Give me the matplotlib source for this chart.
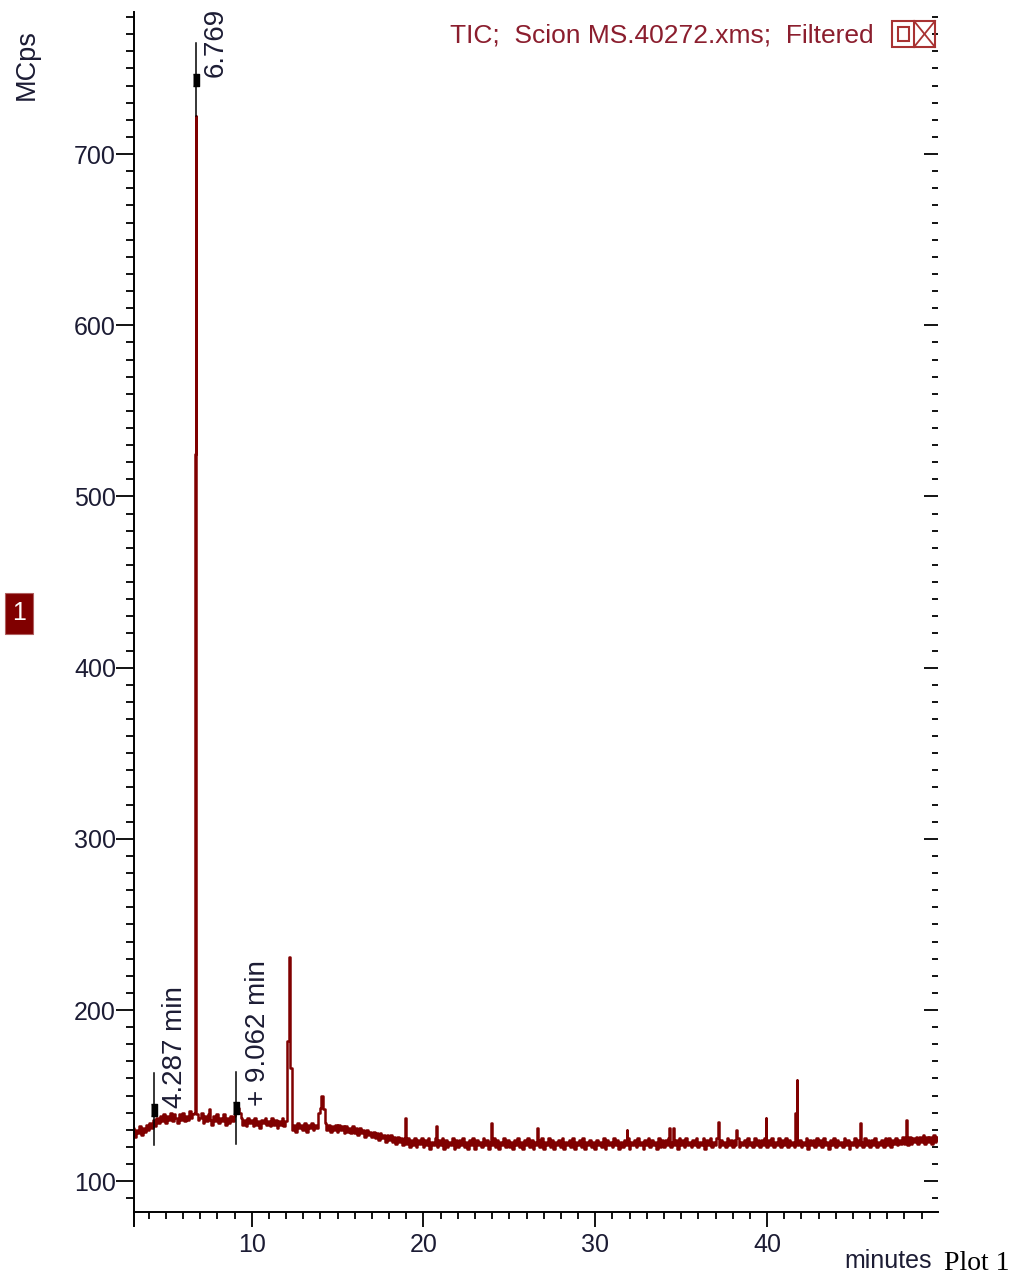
import numpy as np
import matplotlib
matplotlib.use('Agg')
import matplotlib.pyplot as plt
from matplotlib.patches import Rectangle
from matplotlib.ticker import MultipleLocator, FixedFormatter, FixedLocator

plt.rcParams['font.family'] = ['Liberation Sans', 'DejaVu Sans']

# TIC trace, one value every 0.1 min from 3.0 min
base_start = 3.0
base_step = 0.1
base_tic = [
    127, 131, 126, 130, 128, 132, 127, 131, 129, 133,   # 3
    130, 134, 131, 136, 132, 137, 134, 138, 135, 139,   # 4
    134, 138, 136, 140, 135, 139, 137, 134, 139, 136,   # 5
    140, 135, 138, 136, 141, 137, 139, 140, 139, 136,   # 6
    137, 140, 134, 138, 135, 139, 136, 133, 138, 135,   # 7
    139, 134, 137, 135, 139, 133, 137, 134, 138, 135,   # 8
    138, 142, 143, 140, 137, 133, 136, 132, 137, 134,   # 9
    136, 132, 137, 133, 135, 131, 136, 134, 137, 133,   # 10
    135, 132, 137, 133, 136, 131, 135, 133, 137, 132,   # 11
    135, 182, 231, 166, 130, 133, 129, 134, 131, 133,   # 12
    130, 134, 129, 133, 131, 134, 130, 133, 131, 140,   # 13
    143, 150, 142, 134, 130, 133, 129, 132, 130, 133,   # 14
    129, 133, 130, 132, 128, 132, 129, 131, 128, 132,   # 15
    128, 131, 127, 131, 128, 130, 126, 130, 127, 129,   # 16
    126, 129, 125, 128, 124, 128, 125, 127, 123, 127,   # 17
    124, 127, 123, 126, 122, 126, 123, 125, 121, 125,   # 18
    122, 125, 120, 124, 121, 125, 120, 124, 122, 125,   # 19
    120, 124, 121, 125, 119, 123, 121, 125, 120, 124,   # 20
    121, 125, 119, 124, 120, 123, 121, 125, 119, 124,   # 21
    120, 124, 121, 125, 120, 123, 119, 124, 121, 125,   # 22
    119, 124, 121, 123, 120, 125, 121, 124, 119, 123,   # 23
    121, 125, 120, 124, 119, 123, 121, 125, 120, 124,   # 24
    120, 123, 119, 124, 121, 125, 120, 123, 119, 124,   # 25
    121, 125, 120, 124, 119, 123, 121, 124, 120, 125,   # 26
    119, 123, 121, 125, 120, 124, 119, 123, 121, 124,   # 27
    120, 125, 119, 123, 121, 124, 120, 125, 119, 123,   # 28
    121, 124, 120, 125, 119, 123, 121, 124, 120, 123,   # 29
    119, 124, 121, 123, 120, 125, 119, 124, 121, 123,   # 30
    120, 125, 121, 124, 119, 123, 120, 124, 121, 125,   # 31
    119, 123, 121, 124, 120, 125, 121, 123, 119, 124,   # 32
    121, 125, 120, 124, 121, 123, 119, 125, 120, 124,   # 33
    120, 124, 121, 125, 120, 123, 121, 124, 119, 125,   # 34
    121, 124, 120, 125, 121, 123, 120, 124, 121, 125,   # 35
    120, 123, 121, 125, 119, 124, 121, 125, 120, 123,   # 36
    121, 125, 120, 124, 121, 123, 120, 125, 121, 124,   # 37
    120, 124, 121, 125, 120, 123, 121, 124, 120, 125,   # 38
    121, 123, 120, 125, 121, 124, 120, 124, 121, 125,   # 39
    120, 124, 121, 125, 120, 123, 121, 125, 120, 124,   # 40
    121, 125, 120, 124, 121, 123, 120, 125, 121, 124,   # 41
    120, 123, 121, 125, 119, 124, 121, 124, 120, 125,   # 42
    121, 124, 120, 125, 121, 123, 119, 124, 121, 125,   # 43
    120, 124, 121, 123, 120, 125, 121, 124, 119, 123,   # 44
    121, 125, 120, 124, 121, 123, 120, 125, 121, 124,   # 45
    120, 124, 121, 125, 120, 123, 121, 124, 120, 125,   # 46
    121, 125, 120, 124, 122, 125, 121, 124, 122, 126,   # 47
    122, 125, 121, 126, 122, 125, 123, 126, 122, 126,   # 48
    123, 127, 122, 126, 123, 126, 122, 127, 123, 126,   # 49
    124,                                                # 50
]

# narrow peaks and spikes falling between the sampled points
spike_time = [6.72, 6.765, 7.55, 18.97, 20.78, 23.93, 26.63, 31.85, 34.33,
              34.53, 37.16, 38.23, 39.93, 41.68, 41.74, 45.43, 48.13]
spike_tic = [525, 722, 142, 137, 132, 134, 131, 130, 131,
             131, 134.5, 130, 137, 140, 159, 134, 136]

# integration marks
mark_time = [4.287, 6.769, 9.062]
mark_level = [141.5, 743.5, 143.0]
mark_low = [121, 722, 122]
mark_high = [163, 765, 164]
mark_text = ['4.287 min', '6.769', '+ 9.062 min']
mark_text_y = [142.5, 745, 144]
mark_text_dx = [6, 5, 7]   # points

x_ticks = [10, 20, 30, 40]
y_ticks = [100, 200, 300, 400, 500, 600, 700]

W, H = 1011, 1280
TRACE = '#800000'
INK = '#1c1c34'


def px(x, y):
    """Pixel position (from top-left) to figure fraction."""
    return x / W, 1 - y / H


base_time = base_start + base_step * np.arange(len(base_tic))
t = np.concatenate([base_time, spike_time])
v = np.concatenate([base_tic, spike_tic])
order = np.argsort(t, kind='stable')
t, v = t[order], v[order]

fig = plt.figure(figsize=(W / 100, H / 100), dpi=100)
x0, y0 = px(134, 1212)
x1, y1 = px(938, 12)
ax = fig.add_axes([x0, y0, x1 - x0, y1 - y0])

ax.plot(t, v, color=TRACE, lw=1.8, drawstyle='steps-mid', zorder=2)

for mt, lv, lo, hi, txt, ty, dx in zip(mark_time, mark_level, mark_low,
                                       mark_high, mark_text, mark_text_y,
                                       mark_text_dx):
    ax.plot([mt, mt], [lo, hi], color='black', lw=1.1, zorder=3, clip_on=False)
    ax.plot([mt], [lv], marker=[(-0.6, -1), (0.6, -1), (0.6, 1), (-0.6, 1)],
            markersize=8, color='black', zorder=4, clip_on=False)
    ann = ax.annotate(txt, xy=(mt, ty), xytext=(dx, 0),
                      textcoords='offset points', rotation=90, ha='left',
                      va='bottom', fontsize=20, color=INK,
                      annotation_clip=False)
    # labels are cut off at the top of the plot frame
    ann.set_clip_on(True)
    ann.set_clip_box(ax.bbox)

ax.set_xlim(3.15, 49.95)
ax.set_ylim(82, 783)

for side in ['top', 'right']:
    ax.spines[side].set_visible(False)
for side in ['left', 'bottom']:
    ax.spines[side].set_linewidth(1.4)

ax.xaxis.set_major_locator(FixedLocator(x_ticks))
ax.xaxis.set_major_formatter(FixedFormatter([str(x) for x in x_ticks]))
ax.xaxis.set_minor_locator(MultipleLocator(1))
ax.yaxis.set_major_locator(FixedLocator(y_ticks))
ax.yaxis.set_major_formatter(FixedFormatter([str(y) for y in y_ticks]))
ax.yaxis.set_minor_locator(MultipleLocator(10))

ax.tick_params(axis='x', which='major', direction='out', length=11, width=1.3,
               labelsize=18, labelcolor=INK, pad=4)
ax.tick_params(axis='x', which='minor', direction='out', length=5, width=1.3)
ax.tick_params(axis='y', which='major', direction='out', length=13, width=1.3,
               labelsize=18, labelcolor=INK, pad=0)
ax.tick_params(axis='y', which='minor', direction='out', length=6, width=1.3)

# left spine runs on below the x axis
ax.plot([0, 0], [0, -0.012], transform=ax.transAxes, color='black',
        lw=1.4, clip_on=False)

# right-hand tick scale, pointing inwards, no spine
ax2 = ax.twinx()
ax2.set_ylim(ax.get_ylim())
for side in ax2.spines:
    ax2.spines[side].set_visible(False)
ax2.yaxis.set_major_locator(FixedLocator(y_ticks))
ax2.yaxis.set_minor_locator(MultipleLocator(10))
ax2.tick_params(axis='y', which='major', direction='in', length=10, width=1.3,
                labelright=False)
ax2.tick_params(axis='y', which='minor', direction='in', length=4.5, width=1.3)

fig.text(*px(27, 65), 'MCps', rotation=90, ha='center', va='center',
         fontsize=19.5, color=INK)
fig.text(*px(932, 1261), 'minutes', ha='right', va='center', fontsize=18,
         color=INK)
fig.text(*px(1009, 1264), 'Plot 1', ha='right', va='center', fontsize=20,
         color='black', family=['Liberation Serif', 'DejaVu Serif'])

fig.text(*px(450, 36), 'TIC;  Scion MS.40272.xms;  Filtered', ha='left',
         va='center', fontsize=19, color='#8B1E2E')

# legend icon: box with small square and a cross
icon = '#A83232'
bx0, by0 = px(892, 47)
bx1, by1 = px(935, 21)
dvx, _ = px(914, 0)
fig.add_artist(Rectangle((bx0, by0), bx1 - bx0, by1 - by0, fill=False,
                         edgecolor=icon, lw=1.5, transform=fig.transFigure))
fig.add_artist(plt.Line2D([dvx, dvx], [by0, by1], color=icon, lw=1.5,
                          transform=fig.transFigure))
sx0, sy0 = px(898, 41)
sx1, sy1 = px(909, 27)
fig.add_artist(Rectangle((sx0, sy0), sx1 - sx0, sy1 - sy0, fill=False,
                         edgecolor=icon, lw=1.5, transform=fig.transFigure))
fig.add_artist(plt.Line2D([dvx, bx1], [by0, by1], color=icon, lw=1.3,
                          transform=fig.transFigure))
fig.add_artist(plt.Line2D([dvx, bx1], [by1, by0], color=icon, lw=1.3,
                          transform=fig.transFigure))

# plot number tag
tx0, ty0 = px(5, 634)
tx1, ty1 = px(33, 593)
fig.add_artist(Rectangle((tx0, ty0), tx1 - tx0, ty1 - ty0, facecolor='#800000',
                         edgecolor='#b06060', lw=0.8, transform=fig.transFigure))
fig.text((tx0 + tx1) / 2, (ty0 + ty1) / 2, '1', ha='center', va='center',
         fontsize=18, color='white')

fig.savefig('out.png', dpi=100)
